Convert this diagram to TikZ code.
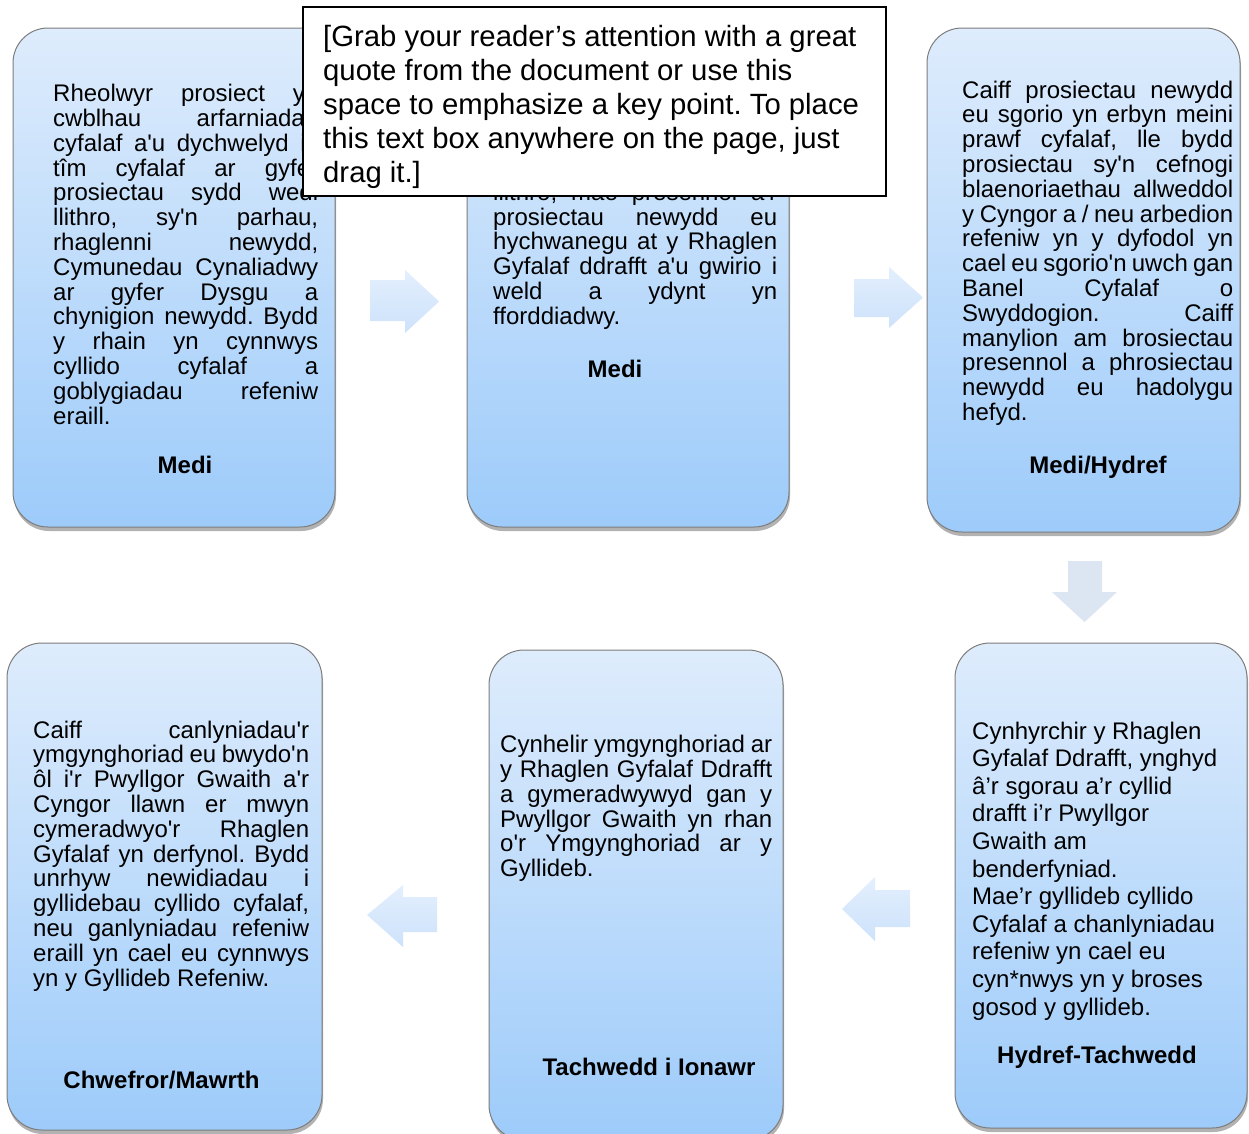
\documentclass[tikz,border=0pt]{standalone}
\usepackage{fontspec}
\newfontfamily\af{Liberation Sans}
\usetikzlibrary{shadows}
\definecolor{btop}{RGB}{222,236,252}
\definecolor{bbot}{RGB}{157,203,250}
\definecolor{atop}{RGB}{227,239,253}
\definecolor{abot}{RGB}{205,226,251}
\definecolor{dar}{RGB}{220,230,242}
\definecolor{bord}{RGB}{125,125,125}
\newcommand\jl[2]{\makebox[#1][s]{\spaceskip=0pt\xspaceskip=0pt\frenchspacing #2}\\}
\newcommand\fixsp{\spaceskip=0pt\xspaceskip=0pt\frenchspacing}
\begin{document}
\begin{tikzpicture}[x=1pt,y=-1pt,
  stage/.style={draw=bord, line width=1pt, rounded corners=35pt, top color=btop, bottom color=bbot,
    drop shadow={shadow xshift=1pt, shadow yshift=-4pt, fill=black, opacity=0.3}, inner sep=0pt},
  txt/.style={inner sep=0pt, anchor=base west, align=left, execute at begin node=\fixsp, font=\af\fontsize{24pt}{24.8pt}\selectfont},
  txtb/.style={inner sep=0pt, anchor=base west, align=left, execute at begin node=\fixsp, font=\af\fontsize{24pt}{27.6pt}\selectfont},
  lab/.style={inner sep=0pt, anchor=base, font=\af\bfseries\fontsize{24pt}{28pt}\selectfont},
  blockarrow/.style={top color=atop, bottom color=abot},
  quotebox/.style={draw=black, line width=2pt, fill=white, inner sep=0pt},
  quotetxt/.style={inner sep=0pt, anchor=base west, align=left, execute at begin node=\fixsp, font=\af\fontsize{29.3pt}{34pt}\selectfont}]
\useasboundingbox (0,0) rectangle (1249,1133);
\fill[white] (0,0) rectangle (1249,1133);

% block arrows
\shade[blockarrow] (370,280) -- (405,280) -- (405,270) -- (439,301.5) -- (405,333) -- (405,321) -- (370,321) -- cycle;
\shade[blockarrow] (854,279) -- (889,279) -- (889,267) -- (923,297.5) -- (889,328) -- (889,317) -- (854,317) -- cycle;
\fill[dar] (1068,561) -- (1102,561) -- (1102,592) -- (1117,592) -- (1084.5,622) -- (1052,592) -- (1068,592) -- cycle;
\shade[blockarrow] (910,890) -- (875,890) -- (875,877) -- (842,909) -- (875,941) -- (875,927) -- (910,927) -- cycle;
\shade[blockarrow] (437,897) -- (403,897) -- (403,885) -- (367,915) -- (403,947) -- (403,932) -- (437,932) -- cycle;

% stage boxes
\node[stage, minimum width=322pt, minimum height=499pt] (b1) at (174,277.5) {};
\node[stage, minimum width=322pt, minimum height=499pt] (b2) at (628,277.5) {};
\node[stage, minimum width=313pt, minimum height=504pt] (b3) at (1083.5,280) {};
\node[stage, minimum width=292pt, minimum height=485pt] (b4) at (1101,885.5) {};
\node[stage, minimum width=294pt, minimum height=490pt] (b5) at (636,895) {};
\node[stage, minimum width=315pt, minimum height=487pt] (b6) at (164.5,886.5) {};

% texts
\node[txt, text width=265pt] (t1) at (53,101.7) {%
\jl{265pt}{Rheolwyr prosiect yn}%
\jl{265pt}{cwblhau arfarniadau}%
\jl{265pt}{cyfalaf a'u dychwelyd i'r}%
\jl{265pt}{tîm cyfalaf ar gyfer}%
\jl{265pt}{prosiectau sydd wedi}%
\jl{265pt}{llithro, sy'n parhau,}%
\jl{265pt}{rhaglenni newydd,}%
\jl{265pt}{Cymunedau Cynaliadwy}%
\jl{265pt}{ar gyfer Dysgu a}%
\jl{265pt}{chynigion newydd. Bydd}%
\jl{265pt}{y rhain yn cynnwys}%
\jl{265pt}{cyllido cyfalaf a}%
\jl{265pt}{goblygiadau refeniw}%
eraill.};
\node[lab] (l1) at (185,473) {Medi};

\node[txt, text width=284pt] (t2) at (493,200.2) {%
\jl{284pt}{llithro, mae presennol a'r}%
\jl{284pt}{prosiectau newydd eu}%
\jl{284pt}{hychwanegu at y Rhaglen}%
\jl{284pt}{Gyfalaf ddrafft a'u gwirio i}%
\jl{284pt}{weld a ydynt yn}%
fforddiadwy.};
\node[lab] (l2) at (615,377) {Medi};

\node[txt, text width=271pt] (t3) at (962,98) {%
\jl{271pt}{Caiff prosiectau newydd}%
\jl{271pt}{eu sgorio yn erbyn meini}%
\jl{271pt}{prawf cyfalaf, lle bydd}%
\jl{271pt}{prosiectau sy'n cefnogi}%
\jl{271pt}{blaenoriaethau allweddol}%
\jl{271pt}{y Cyngor a / neu arbedion}%
\jl{271pt}{refeniw yn y dyfodol yn}%
\jl{271pt}{cael eu sgorio'n uwch gan}%
\jl{271pt}{Banel Cyfalaf o}%
\jl{271pt}{Swyddogion. Caiff}%
\jl{271pt}{manylion am brosiectau}%
\jl{271pt}{presennol a phrosiectau}%
\jl{271pt}{newydd eu hadolygu}%
hefyd.};
\node[lab] (l3) at (1098,473) {Medi/Hydref};

\node[txtb, text width=268pt] (t4) at (972,739) {%
Cynhyrchir y Rhaglen\\
Gyfalaf Ddrafft, ynghyd\\
â’r sgorau a’r cyllid\\
drafft i’r Pwyllgor\\
Gwaith am\\
benderfyniad.\\
Mae’r gyllideb cyllido\\
Cyfalaf a chanlyniadau\\
refeniw yn cael eu\\
cyn*nwys yn y broses\\
gosod y gyllideb.};
\node[lab] (l4) at (1097,1063) {Hydref-Tachwedd};

\node[txt, text width=272pt] (t5) at (500,752.7) {%
\jl{272pt}{Cynhelir ymgynghoriad ar}%
\jl{272pt}{y Rhaglen Gyfalaf Ddrafft}%
\jl{272pt}{a gymeradwywyd gan y}%
\jl{272pt}{Pwyllgor Gwaith yn rhan}%
\jl{272pt}{o'r Ymgynghoriad ar y}%
Gyllideb.};
\node[lab] (l5) at (649,1075) {Tachwedd i Ionawr};

\node[txt, text width=276pt] (t6) at (33,738) {%
\jl{276pt}{Caiff canlyniadau'r}%
\jl{276pt}{ymgynghoriad eu bwydo'n}%
\jl{276pt}{ôl i'r Pwyllgor Gwaith a'r}%
\jl{276pt}{Cyngor llawn er mwyn}%
\jl{276pt}{cymeradwyo'r Rhaglen}%
\jl{276pt}{Gyfalaf yn derfynol. Bydd}%
\jl{276pt}{unrhyw newidiadau i}%
\jl{276pt}{gyllidebau cyllido cyfalaf,}%
\jl{276pt}{neu ganlyniadau refeniw}%
\jl{276pt}{eraill yn cael eu cynnwys}%
yn y Gyllideb Refeniw.};
\node[lab] (l6) at (161.5,1088) {Chwefror/Mawrth};

% pull quote box
\node[quotebox, minimum width=583pt, minimum height=189pt] (q) at (594.5,101.5) {};
\node[quotetxt, text width=560pt] (qt) at (323,46) {%
[Grab your reader’s attention with a great\\
quote from the document or use this\\
space to emphasize a key point. To place\\
this text box anywhere on the page, just\\
drag it.]};
\end{tikzpicture}
\end{document}
